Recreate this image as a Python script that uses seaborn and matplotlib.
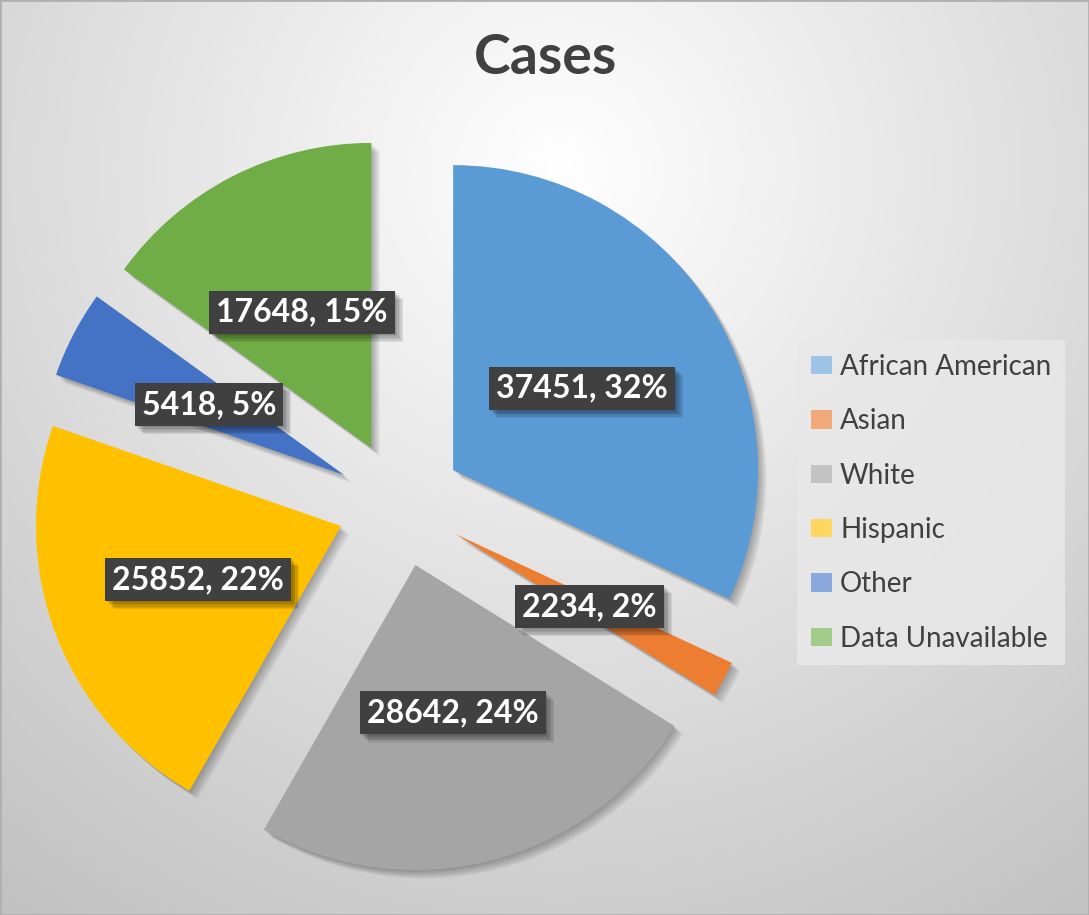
import numpy as np
import matplotlib
matplotlib.use("Agg")
import matplotlib.pyplot as plt
import matplotlib.patheffects as pe
from matplotlib.patches import Patch, Rectangle
import seaborn as sns

categories = ["African American", "Asian", "White", "Hispanic", "Other", "Data Unavailable"]
cases = [37451, 2234, 28642, 25852, 5418, 17648]
title = "Cases"

colors = ["#5B9BD5", "#ED7D31", "#A5A5A5", "#FFC000", "#4472C4", "#70AD47"]
legend_colors = ["#9DC3E6", "#F1A97B", "#C3C3C3", "#FFD75E", "#8AA8DC", "#A3CB8A"]

sns.set_theme(style="white")
plt.rcParams['font.family'] = ['Lato', 'DejaVu Sans']

W, H = 1089, 915
fig = plt.figure(figsize=(W / 100, H / 100), dpi=100)

# background radial gradient
bg = fig.add_axes([0, 0, 1, 1])
yy, xx = np.mgrid[0:H, 0:W]
d = np.hypot(xx - 560, yy - 170) / 950.0
v = np.clip(1.0 - 0.25 * d, 0.7, 1.0)
rgb = np.dstack([v, v, v])
bg.imshow(rgb, extent=(0, W, 0, H), origin="upper", aspect="auto", interpolation="bilinear")
bg.axis("off")

ax = fig.add_axes([0, 0, 1, 1])
ax.patch.set_alpha(0)
total = sum(cases)

wedges, texts, autotexts = ax.pie(
    cases, colors=colors, startangle=90, counterclock=False,
    radius=305, center=(400, H - 504), explode=[63] * len(cases),
    autopct=lambda p: f"{int(round(p * total / 100))}, {p:.0f}%",
    pctdistance=0.5, wedgeprops=dict(linewidth=0),
)
soft = [pe.SimplePatchShadow(offset=(k, -k), alpha=0.05, shadow_rgbFace="black") for k in (1, 2, 3, 4, 5, 6)]
for w in wedges:
    w.set_path_effects(soft + [pe.Normal()])
for t in autotexts:
    t.set_color("white")
    t.set_fontweight("bold")
    t.set_fontsize(23)
    t.set_bbox(dict(boxstyle="square,pad=0.22", fc="#404040", ec="none", lw=0))
    t.get_bbox_patch().set_path_effects(
        [pe.SimplePatchShadow(offset=(k, -k), alpha=0.08, shadow_rgbFace="black") for k in (1, 2, 3, 4, 5, 6)]
        + [pe.Normal()])

ax.set_xlim(0, W)
ax.set_ylim(0, H)
ax.set_aspect("equal")
ax.axis("off")

handles = [Patch(facecolor=c, edgecolor="none", label=n) for c, n in zip(legend_colors, categories)]
leg = fig.legend(handles=handles, loc="upper left", bbox_to_anchor=(797 / W, 1 - 340 / H),
                 frameon=True, fancybox=False, fontsize=20, labelspacing=1.02,
                 handlelength=0.75, handleheight=0.65, handletextpad=0.3,
                 borderpad=0.5, borderaxespad=0)
leg.get_frame().set_facecolor("#e8e8e8")
leg.get_frame().set_edgecolor("none")
leg.get_frame().set_alpha(0.85)
for t in leg.get_texts():
    t.set_color("#404040")

fig.text(545 / W, 1 - 58 / H, title, ha="center", va="center", fontsize=40,
         fontweight="bold", color="#404040")

fig.patches.append(Rectangle((0, 0), 1, 1, transform=fig.transFigure, fill=False,
                             ec="#b0b0b0", lw=2))

fig.savefig("out.png", dpi=100)
